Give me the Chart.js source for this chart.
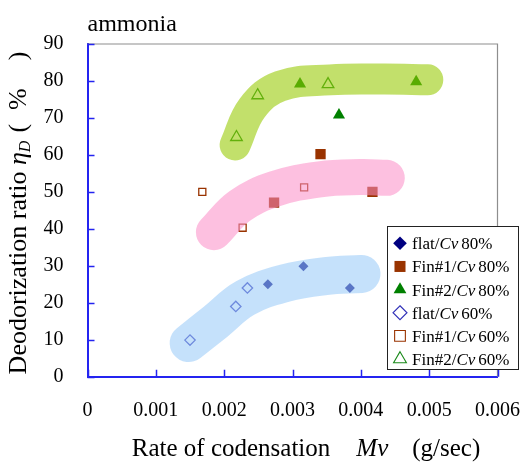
<!DOCTYPE html>
<html>
<head>
<meta charset="utf-8">
<title>ammonia</title>
<script src="https://cdn.jsdelivr.net/npm/chart.js@4.4.1/dist/chart.umd.min.js"></script>
<style>
  html, body { margin: 0; padding: 0; background: #ffffff; }
  #wrap { width: 523px; height: 462px; }
</style>
</head>
<body>
<div id="wrap"><canvas id="c" width="523" height="462"></canvas></div>
<script>
// Axis ticks
const X_TICKS = [0, 0.001, 0.002, 0.003, 0.004, 0.005, 0.006];
const X_TICK_LABELS = ['0', '0.001', '0.002', '0.003', '0.004', '0.005', '0.006'];
const Y_TICKS = [0, 10, 20, 30, 40, 50, 60, 70, 80, 90];
const Y_TICK_LABELS = ['0', '10', '20', '30', '40', '50', '60', '70', '80', '90'];

// Measurements: [rate of condensation Mv (g/sec), deodorization ratio (%)]
const flat80 = [[0.00264, 25.0], [0.00316, 29.9], [0.00384, 24.0]];
const fin1_80 = [[0.00341, 60.2], [0.00273, 47.1], [0.00417, 50.0]];
const fin2_80 = [[0.00311, 79.2], [0.00481, 79.8], [0.00368, 70.8]];
const flat60 = [[0.00150, 9.9], [0.00217, 19.0], [0.00234, 24.0]];
const fin1_60 = [[0.00168, 50.0], [0.00227, 40.3], [0.00317, 51.2]];
const fin2_60 = [[0.00249, 76.1], [0.00352, 79.1], [0.00218, 64.8]];

// Centre lines of the highlight bands around each group
const bandFin2 = [[0.00216, 62.7], [0.00241, 72.7], [0.00282, 78.6], [0.00355, 80.3], [0.00435, 80.5], [0.00498, 80.3]];
const bandFin1 = [[0.00185, 39.1], [0.00223, 46.2], [0.00274, 50.8], [0.00340, 53.4], [0.00399, 54.0], [0.00438, 53.8]];
const bandFlat = [[0.00148, 9.1], [0.00187, 14.8], [0.00231, 21.3], [0.00289, 25.3], [0.00348, 27.2], [0.00401, 27.8]];

const SERIF = '"Liberation Serif", "Times New Roman", serif';
const AXIS_BLUE = '#2424f0';
const f = (size, italic) => (italic ? 'italic ' : '') + size + 'px ' + SERIF;
const pts = arr => arr.map(([x, y]) => ({ x, y }));

const series = [
  { label: 'flat', cv: '80%', data: flat80, style: 'rectRot', r: 5, fill: '#000080', stroke: '#000080', bw: 0, lr: 6.8 },
  { label: 'Fin#1', cv: '80%', data: fin1_80, style: 'rect', r: 7.3, fill: '#993300', stroke: '#993300', bw: 0, lr: 7.8 },
  { label: 'Fin#2', cv: '80%', data: fin2_80, style: 'triangle', r: 7, fill: '#008000', stroke: '#008000', bw: 0, lr: 7.4 },
  { label: 'flat', cv: '60%', data: flat60, style: 'rectRot', r: 5.2, fill: 'rgba(255,255,255,0)', stroke: '#3030b8', bw: 1.3, lr: 7 },
  { label: 'Fin#1', cv: '60%', data: fin1_60, style: 'rect', r: 5, fill: 'rgba(255,255,255,0)', stroke: '#993300', bw: 1.3, lr: 7.6 },
  { label: 'Fin#2', cv: '60%', data: fin2_60, style: 'triangle', r: 6.7, fill: 'rgba(255,255,255,0)', stroke: '#1a8a1a', bw: 1.3, lr: 7.4 }
];

const bands = [
  { data: bandFin2, color: 'rgba(152,203,3,0.59)', width: 31 },
  { data: bandFin1, color: 'rgba(251,140,198,0.55)', width: 36 },
  { data: bandFlat, color: 'rgba(155,203,248,0.58)', width: 38 }
];

const datasets = [];
bands.forEach(b => datasets.push({
  data: pts(b.data), showLine: true, borderColor: b.color, borderWidth: b.width,
  borderCapStyle: 'round', borderJoinStyle: 'round', tension: 0.4, pointRadius: 0,
  fill: false, order: 0
}));
series.forEach(s => datasets.push({
  label: s.label + '/Cv ' + s.cv, data: pts(s.data), showLine: false,
  pointStyle: s.style, pointRadius: s.r, pointHoverRadius: s.r,
  backgroundColor: s.fill, borderColor: s.stroke, pointBackgroundColor: s.fill,
  pointBorderColor: s.stroke, pointBorderWidth: s.bw, order: 1
}));

function drawRich(ctx, segs, x, y) {
  let cx = x;
  for (const s of segs) {
    if (s.gap != null) { cx += s.gap; continue; }
    ctx.font = s.font;
    ctx.fillText(s.t, cx, y + (s.dy || 0));
    cx += ctx.measureText(s.t).width;
  }
  return cx;
}
function richWidth(ctx, segs) {
  let w = 0;
  for (const s of segs) {
    if (s.gap != null) { w += s.gap; continue; }
    ctx.font = s.font;
    w += ctx.measureText(s.t).width;
  }
  return w;
}

function marker(ctx, style, x, y, r, fill, stroke, bw) {
  ctx.beginPath();
  if (style === 'rectRot') {
    ctx.moveTo(x, y - r); ctx.lineTo(x + r, y); ctx.lineTo(x, y + r); ctx.lineTo(x - r, y);
  } else if (style === 'rect') {
    const h = r * Math.SQRT1_2;
    ctx.rect(x - h, y - h, 2 * h, 2 * h);
  } else {
    const a = Math.PI * 2 / 3;
    ctx.moveTo(x, y - r);
    ctx.lineTo(x + Math.sin(a) * r, y - Math.cos(a) * r);
    ctx.lineTo(x + Math.sin(2 * a) * r, y - Math.cos(2 * a) * r);
  }
  ctx.closePath();
  ctx.fillStyle = fill; ctx.fill();
  if (bw > 0) { ctx.strokeStyle = stroke; ctx.lineWidth = bw; ctx.stroke(); }
}

const decorations = {
  id: 'decorations',
  afterDraw(chart) {
    const { ctx, chartArea: { left, right, top, bottom }, scales: { x, y } } = chart;
    ctx.save();
    // upper and right frame
    ctx.strokeStyle = '#8e8e8e'; ctx.lineWidth = 1.2;
    ctx.beginPath(); ctx.moveTo(left, top); ctx.lineTo(right, top); ctx.lineTo(right, bottom); ctx.stroke();
    // inward tick marks
    ctx.strokeStyle = AXIS_BLUE; ctx.lineWidth = 1.5;
    ctx.beginPath();
    Y_TICKS.forEach(v => { const py = Math.round(y.getPixelForValue(v)) + 0.5; ctx.moveTo(left, py); ctx.lineTo(left + 7, py); });
    X_TICKS.forEach(v => { const px = Math.round(x.getPixelForValue(v)) + 0.5; ctx.moveTo(px, bottom); ctx.lineTo(px, bottom - 7); });
    ctx.stroke();

    ctx.fillStyle = '#000'; ctx.textBaseline = 'alphabetic'; ctx.textAlign = 'left';
    // chart label
    ctx.font = f(24); ctx.fillText('ammonia', left, 31);

    // x axis title
    const xt = [
      { t: 'Rate of codensation', font: f(25) }, { gap: 26 },
      { t: 'Mv', font: f(25, true) }, { gap: 24 },
      { t: '(g/sec)', font: f(25) }
    ];
    drawRich(ctx, xt, 306 - richWidth(ctx, xt) / 2, 456);

    // y axis title
    const yt = [
      { t: 'Deodorization ratio ', font: f(26) },
      { t: '\u03B7', font: f(26, true) },
      { t: 'D', font: f(16, true), dy: 4 }, { gap: 8 },
      { t: '(', font: f(26) }, { gap: 14 },
      { t: '%', font: f(26) }, { gap: 28 },
      { t: ')', font: f(26) }
    ];
    ctx.save();
    ctx.translate(26, 213);
    ctx.rotate(-Math.PI / 2);
    drawRich(ctx, yt, -richWidth(ctx, yt) / 2, 0);
    ctx.restore();

    // legend
    const lx = 387.5, ly = 226.5, lw = 131, lh = 143;
    ctx.fillStyle = '#fff'; ctx.fillRect(lx, ly, lw, lh);
    ctx.strokeStyle = '#222'; ctx.lineWidth = 1; ctx.strokeRect(lx, ly, lw, lh);
    series.forEach((s, i) => {
      const cy = 243.3 + i * 23.15;
      marker(ctx, s.style, 400, cy, s.lr, s.bw ? '#fff' : s.fill, s.stroke, s.bw ? 1.1 : 0);
      ctx.fillStyle = '#000';
      drawRich(ctx, [
        { t: s.label + '/', font: f(17) },
        { t: 'Cv', font: f(17, true) }, { gap: 3 },
        { t: s.cv, font: f(17) }
      ], 412, cy + 6);
    });
    ctx.restore();
  }
};

Chart.defaults.font.family = SERIF;
Chart.defaults.color = '#000';

new Chart(document.getElementById('c'), {
  type: 'scatter',
  data: { datasets },
  options: {
    responsive: false,
    animation: false,
    devicePixelRatio: 1,
    events: [],
    layout: { padding: { top: 44, right: 25.5, left: 0, bottom: 0 } },
    plugins: { legend: { display: false }, tooltip: { enabled: false } },
    scales: {
      x: {
        type: 'linear', min: 0, max: 0.006,
        afterBuildTicks: s => { s.ticks = X_TICKS.map(v => ({ value: v })); },
        afterFit: s => { s.height = 85.3; s.paddingLeft = 0; s.paddingRight = 0; },
        ticks: { padding: 22, font: { size: 20 }, color: '#000', maxRotation: 0, autoSkip: false,
                 callback: (v, i) => X_TICK_LABELS[i] },
        grid: { display: false, drawTicks: false },
        border: { color: AXIS_BLUE, width: 2 }
      },
      y: {
        type: 'linear', min: 0, max: 90,
        afterBuildTicks: s => { s.ticks = Y_TICKS.map(v => ({ value: v })); },
        afterFit: s => { s.width = 87.5; s.paddingTop = 0; s.paddingBottom = 0; },
        ticks: { padding: 24, font: { size: 20 }, color: '#000', autoSkip: false,
                 callback: (v, i) => Y_TICK_LABELS[i] },
        grid: { display: false, drawTicks: false },
        border: { color: AXIS_BLUE, width: 2 }
      }
    }
  },
  plugins: [decorations]
});
</script>
</body>
</html>
